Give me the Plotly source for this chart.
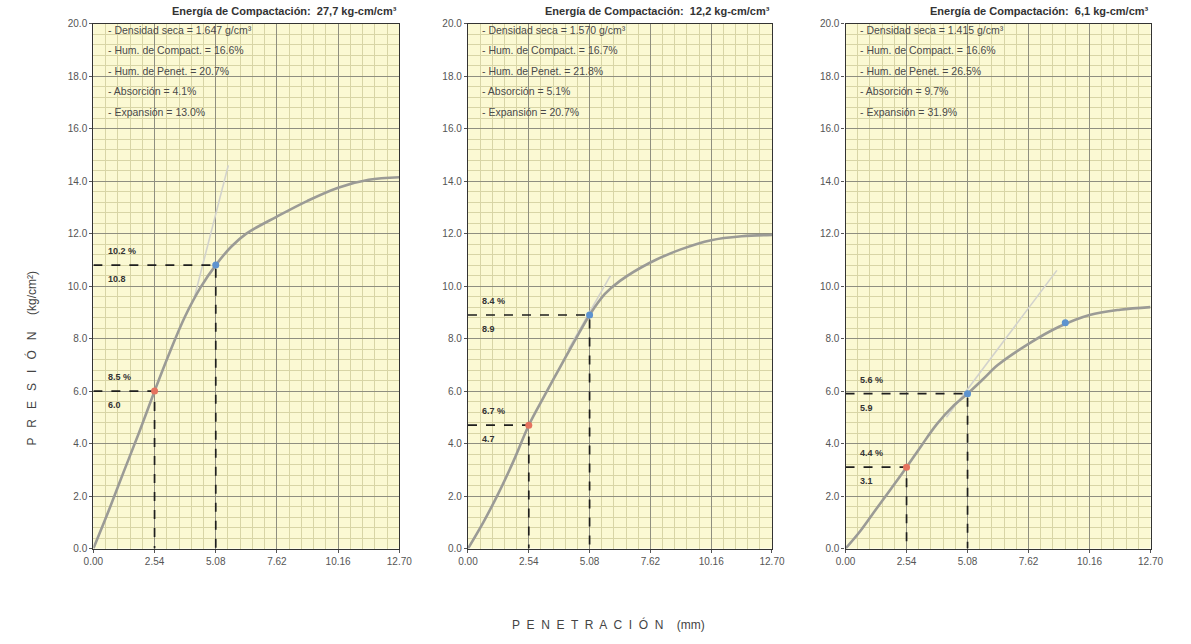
import plotly.graph_objects as go

# Penetration (mm) at which each load reading was taken
penetracion = [0.00, 0.64, 1.27, 1.91, 2.54, 3.18, 3.81, 4.45, 5.08, 5.72, 6.35, 7.62, 8.89, 10.16, 11.43, 12.70]

# Pressure (kg/cm2) for each compaction energy
presion_27 = [0.0, 1.45, 2.95, 4.45, 6.0, 7.5, 8.85, 9.95, 10.8, 11.5, 12.0, 12.65, 13.25, 13.75, 14.05, 14.15]
presion_12 = [0.0, 1.0, 2.1, 3.35, 4.7, 5.8, 6.85, 7.9, 8.9, 9.7, 10.2, 10.9, 11.4, 11.75, 11.9, 11.95]
presion_6 = [0.0, 0.7, 1.5, 2.3, 3.1, 3.95, 4.75, 5.4, 5.9, 6.45, 7.0, 7.8, 8.45, 8.9, 9.1, 9.2]

# Pressure read at 2.54 mm and 5.08 mm, with the resulting CBR
p254 = [6.0, 4.7, 3.1]
p508 = [10.8, 8.9, 5.9]
cbr254 = ["8.5 %", "6.7 %", "4.4 %"]
cbr508 = ["10.2 %", "8.4 %", "5.6 %"]

# Corrected straight-line tangents
tangente_x = [[4.20, 5.60], [4.20, 5.95], [4.20, 8.80]]
tangente_y = [[9.60, 14.60], [7.60, 10.40], [5.00, 10.60]]

# Extra reading marked on the third curve
extra_x = 9.15
extra_y = 8.6

titulos = [
    "Energía de Compactación:  27,7 kg-cm/cm³",
    "Energía de Compactación:  12,2 kg-cm/cm³",
    "Energía de Compactación:  6,1 kg-cm/cm³",
]
datos = [
    ["Densidad seca = 1.647 g/cm³", "Hum. de Compact. = 16.6%", "Hum. de Penet. = 20.7%",
     "Absorción = 4.1%", "Expansión = 13.0%"],
    ["Densidad seca = 1.570 g/cm³", "Hum. de Compact. = 16.7%", "Hum. de Penet. = 21.8%",
     "Absorción = 5.1%", "Expansión = 20.7%"],
    ["Densidad seca = 1.415 g/cm³", "Hum. de Compact. = 16.6%", "Hum. de Penet. = 26.5%",
     "Absorción = 9.7%", "Expansión = 31.9%"],
]
series = [presion_27, presion_12, presion_6]

x_ticks = [0.00, 2.54, 5.08, 7.62, 10.16, 12.70]
x_ticktext = ["0.00", "2.54", "5.08", "7.62", "10.16", "12.70"]

W, H = 1191, 644
x_domains = [(85 / W, 397 / W), (467 / W, 777 / W), (852 / W, 1163 / W)]
y_domain = (1 - 553 / H, 1 - 19 / H)

FONT = "Liberation Sans, Arial, sans-serif"
CURVE = "#9b9b96"
TANG = "#d2d2cc"
RED = "#e5735f"
BLUE = "#5d93cf"

fig = go.Figure()
layout = {}
annotations = []

for i in range(3):
    n = "" if i == 0 else str(i + 1)
    xa, ya = "x" + n, "y" + n
    ys = series[i]

    # tangent line (drawn beneath the curve)
    fig.add_trace(go.Scatter(x=tangente_x[i], y=tangente_y[i], xaxis=xa, yaxis=ya, mode="lines",
                             line=dict(color=TANG, width=1.6), hoverinfo="skip", showlegend=False))
    # dashed reading lines at 2.54 and 5.08 mm
    for px, py in ((2.54, p254[i]), (5.08, p508[i])):
        fig.add_trace(go.Scatter(x=[0, px, px], y=[py, py, 0], xaxis=xa, yaxis=ya, mode="lines",
                                 line=dict(color="#1e1e1e", width=1.7, dash="dash"),
                                 hoverinfo="skip", showlegend=False))
    # pressure-penetration curve
    fig.add_trace(go.Scatter(x=penetracion, y=ys, xaxis=xa, yaxis=ya, mode="lines",
                             line=dict(color=CURVE, width=2.6, shape="spline", smoothing=1.0),
                             showlegend=False))
    # reading points
    fig.add_trace(go.Scatter(x=[2.54], y=[p254[i]], xaxis=xa, yaxis=ya, mode="markers",
                             marker=dict(color=RED, size=7), showlegend=False))
    bx = [5.08] + ([extra_x] if i == 2 else [])
    by = [p508[i]] + ([extra_y] if i == 2 else [])
    fig.add_trace(go.Scatter(x=bx, y=by, xaxis=xa, yaxis=ya, mode="markers",
                             marker=dict(color=BLUE, size=7), showlegend=False))

    layout["xaxis" + n] = dict(
        domain=x_domains[i], range=[0, 12.7], anchor=ya,
        tickvals=x_ticks, ticktext=x_ticktext, ticks="outside", ticklen=3,
        tickcolor="#555", tickfont=dict(family=FONT, size=10, color="#555"),
        showgrid=True, gridcolor="#8f8f80", gridwidth=1,
        minor=dict(dtick=0.508, tick0=0, showgrid=True, gridcolor="#d8d5a6", gridwidth=1),
        showline=True, linecolor="#333", linewidth=1.3, mirror=True, zeroline=False,
    )
    layout["yaxis" + n] = dict(
        domain=y_domain, range=[0, 20], anchor=xa, dtick=2, tick0=0, tickformat=".1f",
        ticks="outside", ticklen=3, tickcolor="#555",
        tickfont=dict(family=FONT, size=10, color="#555"),
        showgrid=True, gridcolor="#8f8f80", gridwidth=1,
        minor=dict(dtick=0.4, tick0=0, showgrid=True, gridcolor="#d8d5a6", gridwidth=1),
        showline=True, linecolor="#333", linewidth=1.3, mirror=True, zeroline=False,
    )

    # panel title
    annotations.append(dict(xref=xa + " domain", yref="paper", x=1.0, y=1 - 6 / H,
                            text="<b>" + titulos[i] + "</b>", showarrow=False,
                            font=dict(family=FONT, size=11, color="#333"),
                            xanchor="right", yanchor="middle"))
    # test data block
    for k, linea in enumerate(datos[i]):
        annotations.append(dict(xref=xa + " domain", yref="paper", x=0.04, y=1 - (25 + 21 * k) / H,
                                text="- " + linea, showarrow=False,
                                font=dict(family=FONT, size=10.5, color="#4a4a4a"),
                                xanchor="left", yanchor="middle"))
    # CBR labels beside the reading lines
    for py, pct in ((p254[i], cbr254[i]), (p508[i], cbr508[i])):
        annotations.append(dict(xref=xa + " domain", yref=ya, x=0.04, y=py, yshift=7,
                                text="<b>" + pct + "</b>", showarrow=False,
                                font=dict(family=FONT, size=9, color="#333"),
                                xanchor="left", yanchor="bottom"))
        annotations.append(dict(xref=xa + " domain", yref=ya, x=0.04, y=py, yshift=-7,
                                text="<b>" + f"{py:.1f}" + "</b>", showarrow=False,
                                font=dict(family=FONT, size=9, color="#333"),
                                xanchor="left", yanchor="top"))

# axis titles
annotations.append(dict(xref="paper", yref="paper", x=22 / W, y=1 - 360 / H,
                        text="P   R   E   S   I   Ó   N     (kg/cm²)", textangle=-90, showarrow=False,
                        font=dict(family=FONT, size=12, color="#444"),
                        xanchor="center", yanchor="middle"))
annotations.append(dict(xref="paper", yref="paper", x=610 / W, y=1 - 630 / H,
                        text="P  E  N  E  T  R  A  C  I  Ó  N    (mm)", showarrow=False,
                        font=dict(family=FONT, size=12, color="#444"),
                        xanchor="center", yanchor="middle"))

fig.update_layout(
    width=W, height=H, margin=dict(l=0, r=0, t=0, b=0),
    paper_bgcolor="white", plot_bgcolor="#fbf9d3",
    annotations=annotations, **layout,
)

fig.write_html("out.html")
